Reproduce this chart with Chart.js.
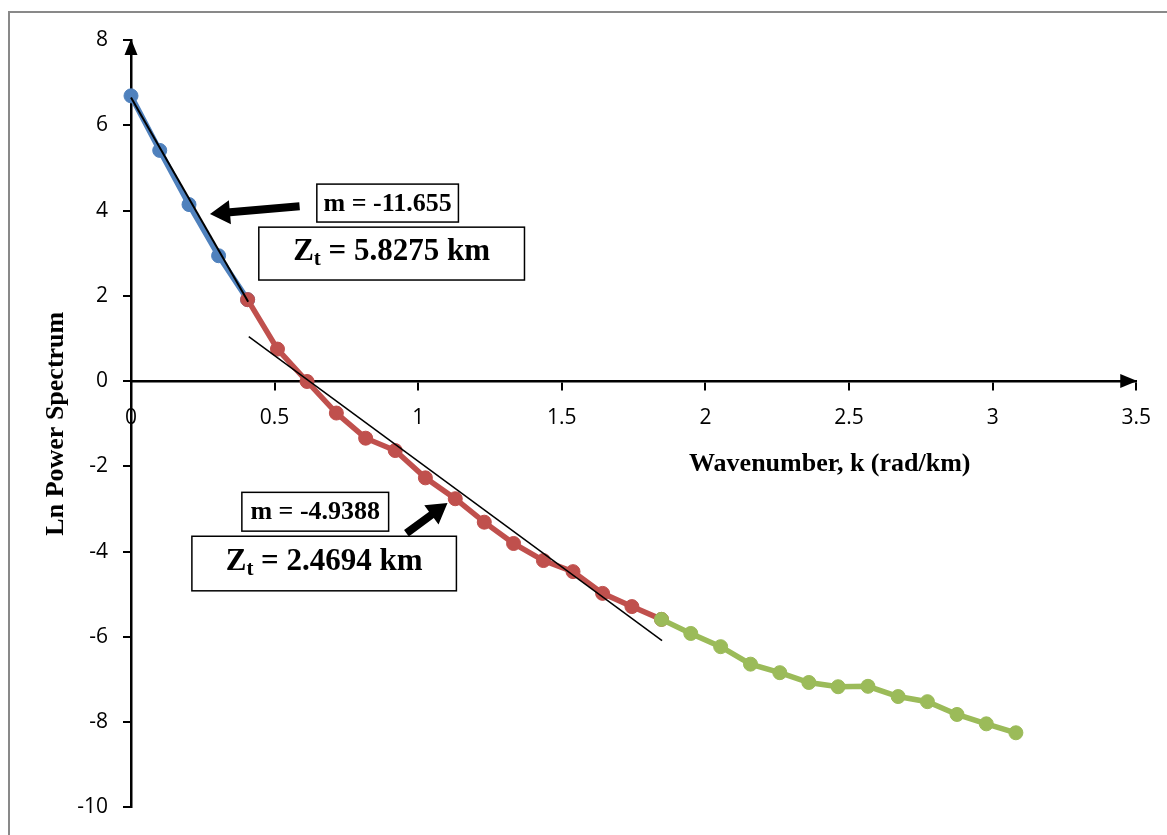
<!DOCTYPE html>
<html>
<head>
<meta charset="utf-8">
<title>Ln Power Spectrum</title>
<script src="https://cdn.jsdelivr.net/npm/chart.js@4.4.1/dist/chart.umd.min.js"></script>
<style>
  html, body { margin: 0; padding: 0; background: #fff; }
</style>
</head>
<body>
<canvas id="spectrumChart" width="1167" height="835"></canvas>
<script>
// wavenumber k (rad/km) of each spectral estimate
const wavenumbers = [0, 0.100, 0.202, 0.305, 0.406, 0.510, 0.613, 0.715, 0.817, 0.920,
    1.025, 1.129, 1.230, 1.332, 1.436, 1.539, 1.642, 1.744, 1.847, 1.949,
    2.053, 2.157, 2.259, 2.360, 2.462, 2.566, 2.671, 2.773, 2.876, 2.978, 3.081];

// ln of the radially averaged power spectrum
const lnPower = [6.69, 5.41, 4.14, 2.94, 1.91, 0.75, -0.01, -0.75, -1.34, -1.63,
    -2.27, -2.76, -3.31, -3.81, -4.21, -4.47, -4.98, -5.29, -5.59, -5.92,
    -6.23, -6.64, -6.84, -7.07, -7.17, -7.16, -7.40, -7.52, -7.82, -8.04, -8.25];

// index ranges of the three segments (deep, shallow, noise)
const deepRange = [0, 4];
const shallowRange = [4, 18];
const noiseRange = [18, 30];

// straight-line fits drawn over the first two segments
const deepFitK = [0, 0.408];
const deepFitLn = [6.65, 1.86];
const shallowFitK = [0.410, 1.849];
const shallowFitLn = [1.04, -6.09];

const slopeLabels = ['m = -11.655', 'm = -4.9388'];
const depthLabels = ['5.8275', '2.4694'];

const xTicks = { min: 0, max: 3.5, step: 0.5 };
const yTicks = { min: -10, max: 8, step: 2 };

const tickFont = { family: '"Open Sans", sans-serif', size: 21 };
const serifBold = '"Liberation Serif", "Times New Roman", serif';

function segment(range) {
    const pts = [];
    for (let i = range[0]; i <= range[1]; i++) {
        pts.push({ x: wavenumbers[i], y: lnPower[i] });
    }
    return pts;
}

function pairs(xs, ys) {
    return xs.map((x, i) => ({ x: x, y: ys[i] }));
}

function seriesStyle(color, order) {
    return {
        borderColor: color,
        backgroundColor: color,
        pointBackgroundColor: color,
        pointBorderColor: color,
        borderWidth: 5.5,
        pointRadius: 7,
        pointBorderWidth: 1,
        tension: 0,
        clip: false,
        order: order
    };
}

// annotation boxes, placed in data units
const annotations = [
    { text: slopeLabels[0], kind: 'm', x0: 0.647, x1: 1.140, y0: 4.62, y1: 3.73 },
    { text: depthLabels[0], kind: 'z', x0: 0.445, x1: 1.370, y0: 3.61, y1: 2.37 },
    { text: slopeLabels[1], kind: 'm', x0: 0.386, x1: 0.897, y0: -2.61, y1: -3.52 },
    { text: depthLabels[1], kind: 'z', x0: 0.212, x1: 1.133, y0: -3.64, y1: -4.92 }
];

const pointers = [
    { from: [0.587, 4.10], to: [0.275, 3.92] },
    { from: [0.959, -3.57], to: [1.102, -2.86] }
];

function drawArrow(ctx, x1, y1, x2, y2) {
    const ang = Math.atan2(y2 - y1, x2 - x1);
    const len = Math.hypot(x2 - x1, y2 - y1);
    const head = 20, shaft = 4, wing = 12;
    ctx.save();
    ctx.translate(x1, y1);
    ctx.rotate(ang);
    ctx.beginPath();
    ctx.moveTo(0, -shaft);
    ctx.lineTo(len - head, -shaft);
    ctx.lineTo(len - head, -wing);
    ctx.lineTo(len, 0);
    ctx.lineTo(len - head, wing);
    ctx.lineTo(len - head, shaft);
    ctx.lineTo(0, shaft);
    ctx.closePath();
    ctx.fillStyle = '#000';
    ctx.fill();
    ctx.restore();
}

function drawDepth(ctx, cx, cy, value) {
    const main = 'bold 31px ' + serifBold;
    const sub = 'bold 21px ' + serifBold;
    const parts = [
        { t: 'Z', f: main, dy: 0 },
        { t: 't', f: sub, dy: 8 },
        { t: ' = ' + value + ' km', f: main, dy: 0 }
    ];
    let total = 0;
    parts.forEach(p => { ctx.font = p.f; p.w = ctx.measureText(p.t).width; total += p.w; });
    let x = cx - total / 2;
    ctx.textBaseline = 'middle';
    ctx.textAlign = 'left';
    ctx.fillStyle = '#000';
    parts.forEach(p => {
        ctx.font = p.f;
        ctx.fillText(p.t, x, cy + p.dy);
        x += p.w;
    });
}

const decorPlugin = {
    id: 'decor',
    beforeDraw(chart) {
        const ctx = chart.ctx;
        ctx.save();
        ctx.fillStyle = '#fff';
        ctx.fillRect(0, 0, chart.width, chart.height);
        ctx.strokeStyle = '#898989';
        ctx.lineWidth = 2;
        ctx.strokeRect(9, 12, chart.width + 20, chart.height + 20);
        ctx.restore();
    },
    afterDraw(chart) {
        const ctx = chart.ctx;
        const xs = chart.scales.x, ys = chart.scales.y;
        const x0 = xs.getPixelForValue(0);
        const y0 = ys.getPixelForValue(0);
        const area = chart.chartArea;
        ctx.save();
        ctx.fillStyle = '#000';
        // arrow heads on the axes
        ctx.beginPath();
        ctx.moveTo(area.right + 1, y0);
        ctx.lineTo(area.right - 16, y0 - 7);
        ctx.lineTo(area.right - 16, y0 + 7);
        ctx.closePath();
        ctx.fill();
        ctx.beginPath();
        ctx.moveTo(x0, area.top - 1);
        ctx.lineTo(x0 - 6.5, area.top + 15);
        ctx.lineTo(x0 + 6.5, area.top + 15);
        ctx.closePath();
        ctx.fill();

        // axis titles
        ctx.font = 'bold 26px ' + serifBold;
        ctx.textAlign = 'center';
        ctx.textBaseline = 'middle';
        ctx.fillText('Wavenumber, k (rad/km)', xs.getPixelForValue(2.433), ys.getPixelForValue(-1.95));
        ctx.save();
        ctx.translate(56, ys.getPixelForValue(-1.0));
        ctx.rotate(-Math.PI / 2);
        ctx.fillText('Ln Power Spectrum', 0, 0);
        ctx.restore();

        // pointers and labelled boxes
        pointers.forEach(p => {
            drawArrow(ctx, xs.getPixelForValue(p.from[0]), ys.getPixelForValue(p.from[1]),
                xs.getPixelForValue(p.to[0]), ys.getPixelForValue(p.to[1]));
        });
        annotations.forEach(a => {
            const l = xs.getPixelForValue(a.x0), r = xs.getPixelForValue(a.x1);
            const t = ys.getPixelForValue(a.y0), b = ys.getPixelForValue(a.y1);
            ctx.fillStyle = '#fff';
            ctx.fillRect(l, t, r - l, b - t);
            ctx.strokeStyle = '#000';
            ctx.lineWidth = 1.5;
            ctx.strokeRect(l, t, r - l, b - t);
            if (a.kind === 'm') {
                ctx.fillStyle = '#000';
                ctx.font = 'bold 26px ' + serifBold;
                ctx.textAlign = 'center';
                ctx.textBaseline = 'middle';
                ctx.fillText(a.text, (l + r) / 2, (t + b) / 2 + 1);
            } else {
                drawDepth(ctx, (l + r) / 2, (t + b) / 2 - 2, a.text);
            }
        });
        ctx.restore();
    }
};

const ctx = document.getElementById('spectrumChart');
new Chart(ctx, {
    type: 'line',
    data: {
        datasets: [
            Object.assign({ label: 'deep', data: segment(deepRange) }, seriesStyle('#4F81BD', 3)),
            Object.assign({ label: 'shallow', data: segment(shallowRange) }, seriesStyle('#C0504D', 2)),
            Object.assign({ label: 'noise', data: segment(noiseRange) }, seriesStyle('#9BBB59', 1)),
            {
                label: 'deep fit', data: pairs(deepFitK, deepFitLn),
                borderColor: '#000', borderWidth: 2, pointRadius: 0, clip: false, order: 0
            },
            {
                label: 'shallow fit', data: pairs(shallowFitK, shallowFitLn),
                borderColor: '#000', borderWidth: 1.5, pointRadius: 0, clip: false, order: 0
            }
        ]
    },
    options: {
        responsive: false,
        animation: false,
        layout: { padding: { top: 40, right: 29, bottom: 25, left: 0 } },
        plugins: {
            legend: { display: false },
            tooltip: { enabled: false }
        },
        scales: {
            x: {
                type: 'linear',
                position: { y: 0 },
                min: xTicks.min,
                max: xTicks.max,
                ticks: {
                    stepSize: xTicks.step,
                    color: '#000',
                    font: tickFont,
                    padding: 16,
                    maxRotation: 0,
                    autoSkip: false,
                    callback: v => String(Number(v.toFixed(1)))
                },
                grid: { drawOnChartArea: false, drawTicks: true, tickLength: 8, color: '#000', lineWidth: 2 },
                border: { display: true, color: '#000', width: 2.5 }
            },
            y: {
                type: 'linear',
                position: 'left',
                min: yTicks.min,
                max: yTicks.max,
                ticks: {
                    stepSize: yTicks.step,
                    color: '#000',
                    font: tickFont,
                    padding: 15
                },
                grid: { drawOnChartArea: false, drawTicks: true, tickLength: 8, color: '#000', lineWidth: 2 },
                border: { display: true, color: '#000', width: 2.5 },
                afterFit(scale) {
                    scale.width = 131;
                }
            }
        }
    },
    plugins: [decorPlugin]
});
</script>
</body>
</html>
